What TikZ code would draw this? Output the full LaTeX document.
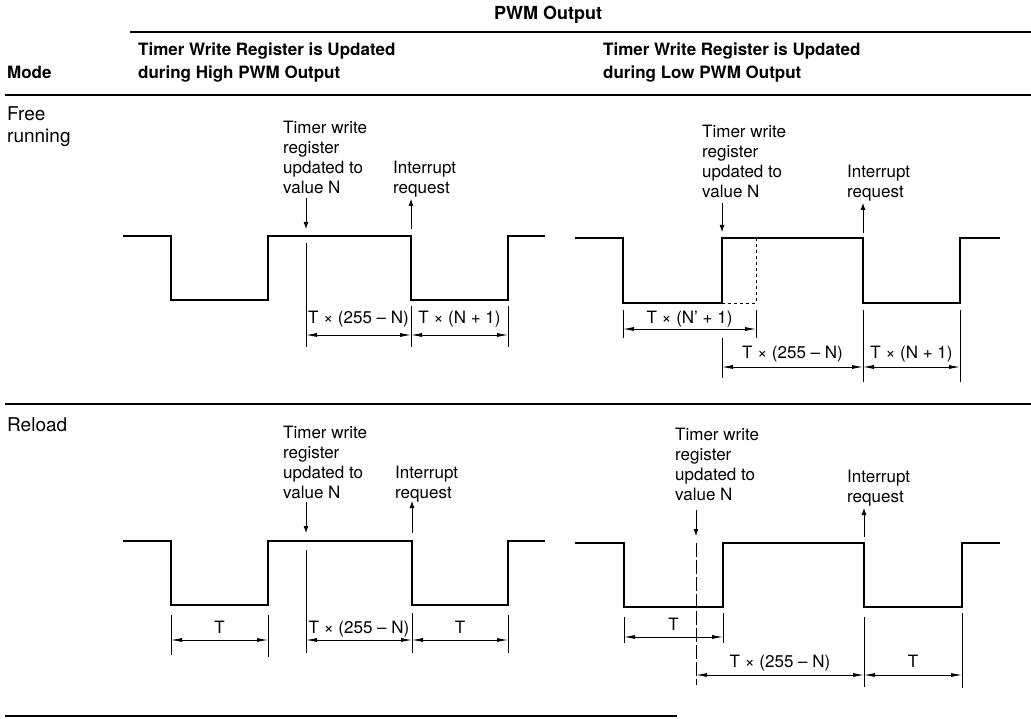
\documentclass[tikz,border=0pt]{standalone}
\usepackage{fontspec}
\setmainfont{TeX Gyre Heros}
\usetikzlibrary{arrows.meta}
\begin{document}
\begin{tikzpicture}[x=1pt, y=-1pt, line join=miter, >={Latex[length=11pt,width=4pt]},
		wave/.style={line width=1.5pt},
		rule/.style={line width=1.2pt},
		ext/.style={line width=0.8pt},
		dim/.style={line width=0.8pt, <->},
		callout/.style={line width=0.8pt, -{Latex[length=7pt,width=5pt]}},
		hdr/.style={font=\fontsize{17}{23}\selectfont\bfseries, inner sep=0pt, align=left},
		lbl/.style={font=\fontsize{17}{20}\selectfont, inner sep=0pt, align=left, anchor=north west},
		dimlbl/.style={font=\fontsize{17}{20}\selectfont, inner sep=0pt, anchor=base},
		modelbl/.style={font=\fontsize{19}{22}\selectfont, inner sep=0pt, align=left}]
	\useasboundingbox (0,0) rectangle (1031,719);
	% table head
	\node[hdr, font=\fontsize{18}{23}\selectfont\bfseries, anchor=base] (pwm) at (548,20) {PWM Output};
	\draw[rule] (130,32) -- (1031,32);
	\node[hdr, anchor=north west] (hhigh) at (138,43) {Timer Write Register is Updated\\during High PWM Output};
	\node[hdr, anchor=north west] (hlow) at (603,43) {Timer Write Register is Updated\\during Low PWM Output};
	\node[hdr, anchor=base west] (mode) at (7,79) {Mode};
	\draw[rule] (5,95) -- (1031,95);
	\draw[rule] (5,404) -- (1031,404);
	\draw[rule] (5,716) -- (677,716);
	\node[modelbl, anchor=north west] (free) at (7,106) {Free\\running};
	\node[modelbl, anchor=base west] (reload) at (7,431) {Reload};

	% free running, high
	\draw[wave] (123,236) -- (171,236) -- (171,300) -- (268,300) -- (268,236) -- (411,236) -- (411,300) -- (508,300) -- (508,236) -- (545,236);
	\node[lbl] (tw1) at (283,121) {Timer write\\register\\updated to\\value N};
	\node[lbl] (ir1) at (393,161) {Interrupt\\request};
	\draw[callout] (306,198) -- (306,229);
	\draw[callout] (411,229) -- (411,199);
	\draw[ext] (306,243) -- (306,347);
	\draw[ext] (411,306) -- (411,347);
	\draw[ext] (508,306) -- (508,347);
	\draw[dim] (306,335) -- (411,335);
	\draw[dim] (411,335) -- (508,335);
	\node[dimlbl] (d1a) at (358.5,324) {T × (255 – N)};
	\node[dimlbl] (d1b) at (459.5,324) {T × (N + 1)};

	% free running, low
	\draw[wave] (575,238) -- (623,238) -- (623,303) -- (722,303) -- (722,238) -- (863,238) -- (863,303) -- (960,303) -- (960,238) -- (1000,238);
	\draw[ext, dashed] (722,303) -- (756,303) -- (756,238);
	\node[lbl] (tw2) at (702,125) {Timer write\\register\\updated to\\value N};
	\node[lbl] (ir2) at (847,165) {Interrupt\\request};
	\draw[callout] (722,203) -- (722,232);
	\draw[callout] (863,233) -- (863,203);
	\draw[ext] (623,310) -- (623,338);
	\draw[ext] (756,310) -- (756,338);
	\draw[ext] (722,338) -- (722,378);
	\draw[ext] (863,310) -- (863,382);
	\draw[ext] (960,310) -- (960,382);
	\draw[dim] (623,329) -- (756,329);
	\draw[dim] (722,367) -- (863,367);
	\draw[dim] (863,367) -- (960,367);
	\node[dimlbl] (d2a) at (689.5,324) {T × (N' + 1)};
	\node[dimlbl] (d2b) at (792.5,359) {T × (255 – N)};
	\node[dimlbl] (d2c) at (911.5,359) {T × (N + 1)};

	% reload, high
	\draw[wave] (123,541) -- (171,541) -- (171,605) -- (268,605) -- (268,541) -- (412,541) -- (412,605) -- (508,605) -- (508,541) -- (545,541);
	\node[lbl] (tw3) at (283,426) {Timer write\\register\\updated to\\value N};
	\node[lbl] (ir3) at (395,466) {Interrupt\\request};
	\draw[callout] (306,502) -- (306,533);
	\draw[callout] (412,533) -- (412,501);
	\draw[ext] (171,615) -- (171,655);
	\draw[ext] (268,615) -- (268,657);
	\draw[ext] (306,550) -- (306,653);
	\draw[ext] (412,613) -- (412,653);
	\draw[ext] (508,615) -- (508,653);
	\draw[dim] (171,640) -- (268,640);
	\draw[dim] (306,640) -- (412,640);
	\draw[dim] (412,640) -- (508,640);
	\node[dimlbl] (d3a) at (219.5,633) {T};
	\node[dimlbl] (d3b) at (359,633) {T × (255 – N)};
	\node[dimlbl] (d3c) at (460,633) {T};

	% reload, low
	\draw[wave] (575,543) -- (624,543) -- (624,607) -- (723,607) -- (723,543) -- (864,543) -- (864,607) -- (962,607) -- (962,543) -- (1000,543);
	\node[lbl] (tw4) at (675,428) {Timer write\\register\\updated to\\value N};
	\node[lbl] (ir4) at (847,470) {Interrupt\\request};
	\draw[callout] (696,510) -- (696,536);
	\draw[callout] (864,537) -- (864,508);
	\draw[ext, dash pattern=on 14pt off 3pt] (696,543) -- (696,685);
	\draw[ext] (624,617) -- (624,643);
	\draw[ext] (723,613) -- (723,643);
	\draw[ext] (864,617) -- (864,687);
	\draw[ext] (962,613) -- (962,688);
	\draw[dim] (624,637) -- (723,637);
	\draw[dim] (696,675) -- (864,675);
	\draw[dim] (864,675) -- (962,675);
	\node[dimlbl] (d4a) at (673.5,630) {T};
	\node[dimlbl] (d4b) at (780,667) {T × (255 – N)};
	\node[dimlbl] (d4c) at (913,667) {T};
\end{tikzpicture}
\end{document}
